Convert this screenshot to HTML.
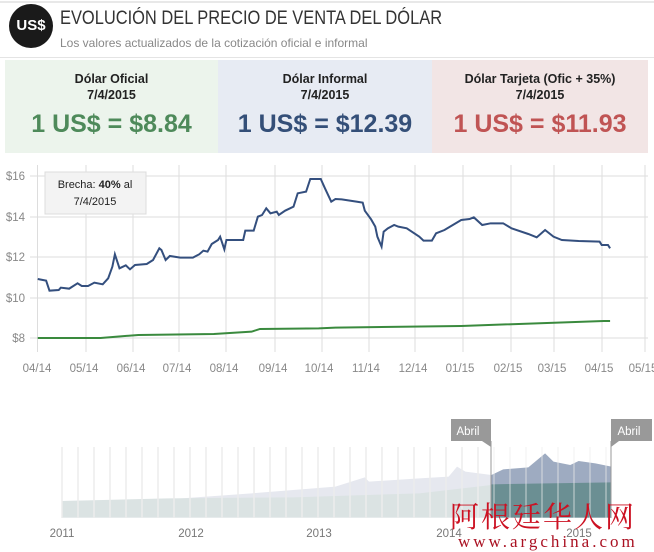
<!DOCTYPE html>
<html><head><meta charset="utf-8"><style>
body{margin:0;width:654px;height:552px;background:#fff;font-family:"Liberation Sans",sans-serif;position:relative;overflow:hidden}
.a{position:absolute}
.box{position:absolute;top:60px;height:93px;text-align:center;font-weight:bold}
.box .l{font-size:12.5px;color:#222;margin-top:11px;line-height:16px}
.box .v{font-size:25px;margin-top:7px;font-family:"Liberation Sans Narrow","Liberation Sans",sans-serif}
</style></head><body>
<div class="a" style="left:0;top:1px;width:654px;height:2px;background:#e8e8e8"></div>
<div class="a" style="left:9px;top:4px;width:44px;height:44px;border-radius:50%;background:#1a1a1a;color:#fff;font-weight:bold;font-size:15px;line-height:44px;text-align:center">US$</div>
<div class="a" style="left:60px;top:8px;font-size:19px;color:#333;transform:scaleX(0.865);transform-origin:0 0;white-space:nowrap">EVOLUCIÓN DEL PRECIO DE VENTA DEL DÓLAR</div>
<div class="a" style="left:60px;top:36px;font-size:12px;color:#888">Los valores actualizados de la cotización oficial e informal</div>
<div class="a" style="left:0;top:57px;width:654px;height:1px;background:#e4e4e4"></div>
<div class="box" style="left:5px;width:213px;background:#ecf4ec"><div class="l">Dólar Oficial<br>7/4/2015</div><div class="v" style="color:#4e8a5a">1 US$ = $8.84</div></div>
<div class="box" style="left:218px;width:214px;background:#e7ebf3"><div class="l">Dólar Informal<br>7/4/2015</div><div class="v" style="color:#344f78">1 US$ = $12.39</div></div>
<div class="box" style="left:432px;width:216px;background:#f2e5e5"><div class="l">Dólar Tarjeta (Ofic + 35%)<br>7/4/2015</div><div class="v" style="color:#c05454">1 US$ = $11.93</div></div>

<svg class="a" style="left:0;top:0" width="654" height="552" font-family="Liberation Sans, sans-serif">
<g stroke="#ddd" stroke-width="1">
<line x1="37.5" y1="165" x2="37.5" y2="352"/><line x1="86" y1="165" x2="86" y2="352"/><line x1="133" y1="165" x2="133" y2="352"/><line x1="179" y1="165" x2="179" y2="352"/><line x1="226" y1="165" x2="226" y2="352"/><line x1="275" y1="165" x2="275" y2="352"/><line x1="322" y1="165" x2="322" y2="352"/><line x1="369" y1="165" x2="369" y2="352"/><line x1="415" y1="165" x2="415" y2="352"/><line x1="463" y1="165" x2="463" y2="352"/><line x1="511" y1="165" x2="511" y2="352"/><line x1="554" y1="165" x2="554" y2="352"/><line x1="602" y1="165" x2="602" y2="352"/><line x1="645" y1="165" x2="645" y2="352"/>
<line x1="30" y1="176" x2="648" y2="176"/><line x1="30" y1="217" x2="648" y2="217"/><line x1="30" y1="257" x2="648" y2="257"/><line x1="30" y1="298" x2="648" y2="298"/><line x1="30" y1="338" x2="648" y2="338"/>
</g>
<g font-size="11.5" fill="#888" text-anchor="end"><text x="25" y="180">$16</text><text x="25" y="221">$14</text><text x="25" y="261">$12</text><text x="25" y="302">$10</text><text x="25" y="342">$8</text></g>
<g font-size="11.5" fill="#888" text-anchor="middle"><text x="37" y="372">04/14</text><text x="84" y="372">05/14</text><text x="131" y="372">06/14</text><text x="177" y="372">07/14</text><text x="224" y="372">08/14</text><text x="273" y="372">09/14</text><text x="319" y="372">10/14</text><text x="366" y="372">11/14</text><text x="413" y="372">12/14</text><text x="460" y="372">01/15</text><text x="508" y="372">02/15</text><text x="552" y="372">03/15</text><text x="599" y="372">04/15</text><text x="643" y="372">05/15</text></g>
<g transform="translate(0,160) scale(0.4193,0.3333)" fill="none">
<polyline vector-effect="non-scaling-stroke" stroke="#344f7e" stroke-width="2" points="90,357 110,362 118,392 140,390 145,383 165,386 185,370 195,378 210,378 225,368 245,373 258,355 268,320 274,283 285,325 300,316 310,328 322,315 350,312 365,300 380,265 385,270 395,300 405,288 430,293 460,293 475,283 485,272 495,275 505,252 520,240 525,230 535,268 540,240 580,240 585,212 605,212 615,170 625,165 635,145 645,160 660,155 665,165 680,152 700,140 710,100 730,95 740,57 765,57 775,85 790,125 800,117 815,118 850,125 865,128 870,152 885,178 895,200 900,230 910,260 915,215 925,205 940,195 950,200 970,205 1000,230 1010,242 1030,242 1040,220 1060,210 1100,180 1120,177 1130,172 1150,195 1170,190 1200,190 1220,205 1260,222 1280,232 1300,210 1320,230 1340,240 1380,243 1430,245 1435,255 1450,255 1455,265"/>
<polyline vector-effect="non-scaling-stroke" stroke="#3a8a3e" stroke-width="2" points="90,534 240,534 280,530 330,525 510,522 600,515 620,507 760,505 800,503 1100,498 1440,483 1455,483"/>
</g>
<rect x="45" y="172" width="101" height="42" fill="#f3f3f3" stroke="#ddd"/>
<text x="95" y="188" font-size="11" text-anchor="middle" fill="#222">Brecha: <tspan font-weight="bold">40%</tspan> al</text>
<text x="95" y="205" font-size="11" text-anchor="middle" fill="#222">7/4/2015</text>

<g transform="translate(0,380) scale(0.4193,0.3333)">
<polygon fill="#e6e8ef" points="148,413 148,363 400,358 600,340 800,320 870,292 880,305 1000,295 1070,290 1090,260 1110,275 1172,285 1172,413"/>
<polygon fill="#dbe3e3" points="148,413 148,363 400,355 700,352 1000,340 1172,315 1172,413"/>
<polygon fill="#9eabc1" points="1172,413 1172,285 1200,268 1260,262 1300,220 1320,245 1360,255 1380,243 1420,250 1458,260 1458,413"/>
<polygon fill="#6b8f93" points="1172,413 1172,313 1458,307 1458,413"/>
</g>
<g stroke="#ececec" stroke-width="1.5">
<line x1="62" y1="447" x2="62" y2="518"/><line x1="78" y1="447" x2="78" y2="518"/><line x1="94" y1="447" x2="94" y2="518"/><line x1="110" y1="447" x2="110" y2="518"/><line x1="126" y1="447" x2="126" y2="518"/><line x1="142" y1="447" x2="142" y2="518"/><line x1="158" y1="447" x2="158" y2="518"/><line x1="174" y1="447" x2="174" y2="518"/><line x1="190" y1="447" x2="190" y2="518"/><line x1="206" y1="447" x2="206" y2="518"/><line x1="222" y1="447" x2="222" y2="518"/><line x1="238" y1="447" x2="238" y2="518"/><line x1="254" y1="447" x2="254" y2="518"/><line x1="270" y1="447" x2="270" y2="518"/><line x1="286" y1="447" x2="286" y2="518"/><line x1="302" y1="447" x2="302" y2="518"/><line x1="318" y1="447" x2="318" y2="518"/><line x1="334" y1="447" x2="334" y2="518"/><line x1="350" y1="447" x2="350" y2="518"/><line x1="366" y1="447" x2="366" y2="518"/><line x1="382" y1="447" x2="382" y2="518"/><line x1="398" y1="447" x2="398" y2="518"/><line x1="414" y1="447" x2="414" y2="518"/><line x1="430" y1="447" x2="430" y2="518"/><line x1="446" y1="447" x2="446" y2="518"/><line x1="462" y1="447" x2="462" y2="518"/><line x1="478" y1="447" x2="478" y2="518"/><line x1="494" y1="447" x2="494" y2="518" stroke-opacity=".5"/><line x1="510" y1="447" x2="510" y2="518" stroke-opacity=".5"/><line x1="526" y1="447" x2="526" y2="518" stroke-opacity=".5"/><line x1="542" y1="447" x2="542" y2="518" stroke-opacity=".5"/><line x1="558" y1="447" x2="558" y2="518" stroke-opacity=".5"/><line x1="574" y1="447" x2="574" y2="518" stroke-opacity=".5"/><line x1="590" y1="447" x2="590" y2="518" stroke-opacity=".5"/><line x1="606" y1="447" x2="606" y2="518" stroke-opacity=".5"/>
</g>
<line x1="491" y1="441" x2="491" y2="518" stroke="#999"/><line x1="611" y1="441" x2="611" y2="518" stroke="#999"/>
<path d="M451 419 H491 V447 L482 441 H451Z" fill="#999"/>
<text x="468" y="435" font-size="11.5" fill="#fff" text-anchor="middle">Abril</text>
<path d="M611 419 H652 V441 H619 L611 447Z" fill="#999"/>
<text x="629" y="435" font-size="11.5" fill="#fff" text-anchor="middle">Abril</text>
<g font-size="11.5" fill="#777" text-anchor="middle"><text x="62" y="537">2011</text><text x="191" y="537">2012</text><text x="319" y="537">2013</text><text x="449" y="537">2014</text><text x="579" y="537">2015</text></g>
<text x="450" y="527" font-size="29" fill="#cc1122" font-family="Noto Serif CJK SC, serif" letter-spacing="2">阿根廷华人网</text>
<text x="458" y="547" font-size="17" fill="#aa1122" font-family="Liberation Serif, serif" letter-spacing="3">www.argchina.com</text>
</svg>
</body></html>
